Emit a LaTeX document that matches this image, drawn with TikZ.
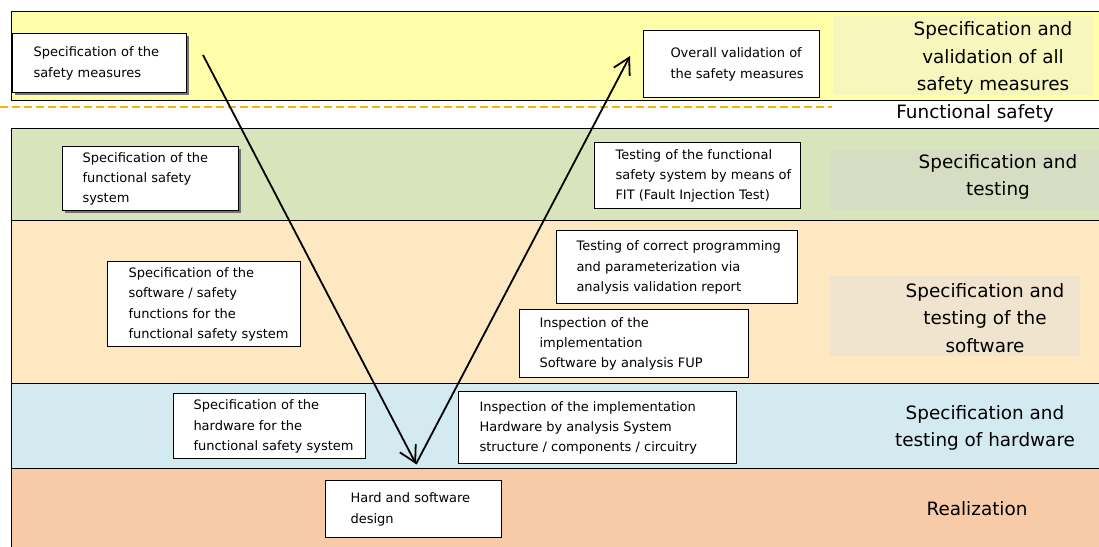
\documentclass[tikz,border=0pt]{standalone}
\usepackage{fontspec}
\setmainfont{DejaVu Sans}
\usepackage{xcolor}
\usetikzlibrary{arrows.meta,shadows}

\definecolor{bandyellow}{HTML}{FFFFAA}
\definecolor{bandgreen}{HTML}{D8E4BC}
\definecolor{bandpeach}{HTML}{FEE8C1}
\definecolor{bandblue}{HTML}{D2EAF0}
\definecolor{bandsalmon}{HTML}{F8CBA8}
\definecolor{bgyellow}{HTML}{F6F6BD}
\definecolor{bggreen}{HTML}{D6DDC3}
\definecolor{bgpeach}{HTML}{F1E4CF}
\definecolor{dashorange}{HTML}{F5B800}

% box text: width, left padding, lines
\newcommand{\boxlines}[3]{\makebox[#1pt][l]{\hspace*{#2pt}\begin{tabular}{@{}l@{}}#3\end{tabular}}}

\begin{document}
\begin{tikzpicture}[
        x=1pt, y=-1pt,
        band/.style={draw, line width=0.9pt},
        stepbox/.style={
            draw, fill=white, line width=1pt,
            inner sep=0pt, anchor=north west,
            font=\fontsize{13}{20.3}\selectfont
        },
        shadowbox/.style={
            stepbox,
            drop shadow={shadow xshift=2pt, shadow yshift=-2pt, fill=black!55, opacity=1}
        },
        phase/.style={font=\fontsize{18.4}{27.5}\selectfont, align=center, inner sep=0pt},
        vline/.style={-{Straight Barb[length=16pt,width=18pt,line width=1.8pt]}, line width=1.8pt}
    ]
    \useasboundingbox (0,0) rectangle (1099,546);

    % Bands
    \draw[band, fill=bandyellow] (11,11) rectangle (1105,100);
    \draw[band, fill=bandgreen] (11,128) rectangle (1105,220);
    \draw[band, fill=bandpeach] (11,220) rectangle (1105,383);
    \draw[band, fill=bandblue] (11,383) rectangle (1105,468);
    \draw[band, fill=bandsalmon] (11,468) rectangle (1105,552);

    % Label backgrounds
    \fill[bgyellow] (833,16) rectangle (1093,95);
    \fill[bggreen] (830,150) rectangle (1099,210);
    \fill[bgpeach] (830,276) rectangle (1080,356);

    \draw[dashorange, line width=1.4pt, dash pattern=on 8pt off 4pt] (0,107) -- (832,107);

    % Left side of the V
    \node[shadowbox, minimum height=59pt] (specmeasures) at (12,33)
        {\boxlines{174}{21}{Specification of the\\safety measures}};
    \node[shadowbox, minimum height=64pt] (specsystem) at (62,146)
        {\boxlines{176}{20}{Specification of the\\functional safety\\system}};
    \node[stepbox, minimum height=85pt] (specsoftware) at (107,261)
        {\boxlines{193}{21}{Specification of the\\software / safety\\functions for the\\functional safety system}};
    \node[stepbox, minimum height=65pt] (spechardware) at (173,393)
        {\boxlines{192}{20}{Specification of the\\hardware for the\\functional safety system}};

    % Bottom
    \node[stepbox, minimum height=57pt] (design) at (325,480)
        {\boxlines{176}{25}{Hard and software\\design}};

    % Right side of the V
    \node[stepbox, minimum height=72pt] (inspecthardware) at (458,391)
        {\boxlines{278}{21}{Inspection of the implementation\\Hardware by analysis System\\structure / components / circuitry}};
    \node[stepbox, minimum height=68pt] (inspectsoftware) at (519,309)
        {\boxlines{229}{20}{Inspection of the\\implementation\\Software by analysis FUP}};
    \node[stepbox, minimum height=73pt] (testprogramming) at (556,230)
        {\boxlines{241}{20}{Testing of correct programming\\and parameterization via\\analysis validation report}};
    \node[stepbox, minimum height=66pt] (testfit) at (594,142)
        {\boxlines{206}{21}{Testing of the functional\\safety system by means of\\FIT (Fault Injection Test)}};
    \node[stepbox, minimum height=67pt] (validation) at (643,30)
        {\boxlines{176}{27}{Overall validation of\\the safety measures}};

    % Phase labels
    \node[phase] (phasevalidation) at (993,58) {Specification and\\validation of all\\safety measures};
    \node[phase] (phasefunctional) at (975,113) {Functional safety};
    \node[phase] (phasetesting) at (998,177) {Specification and\\testing};
    \node[phase] (phasesoftware) at (985,318) {Specification and\\testing of the\\software};
    \node[phase] (phasehardware) at (985,428) {Specification and\\testing of hardware};
    \node[phase] (phaserealization) at (977,509) {Realization};

    % V arrows
    \coordinate (vstart) at (203,55);
    \coordinate (vbottom) at (416,464);
    \coordinate (vend) at (630,56);
    \draw[vline] (vstart) -- (vbottom);
    \draw[vline] (vbottom) -- (vend);

\end{tikzpicture}
\end{document}
